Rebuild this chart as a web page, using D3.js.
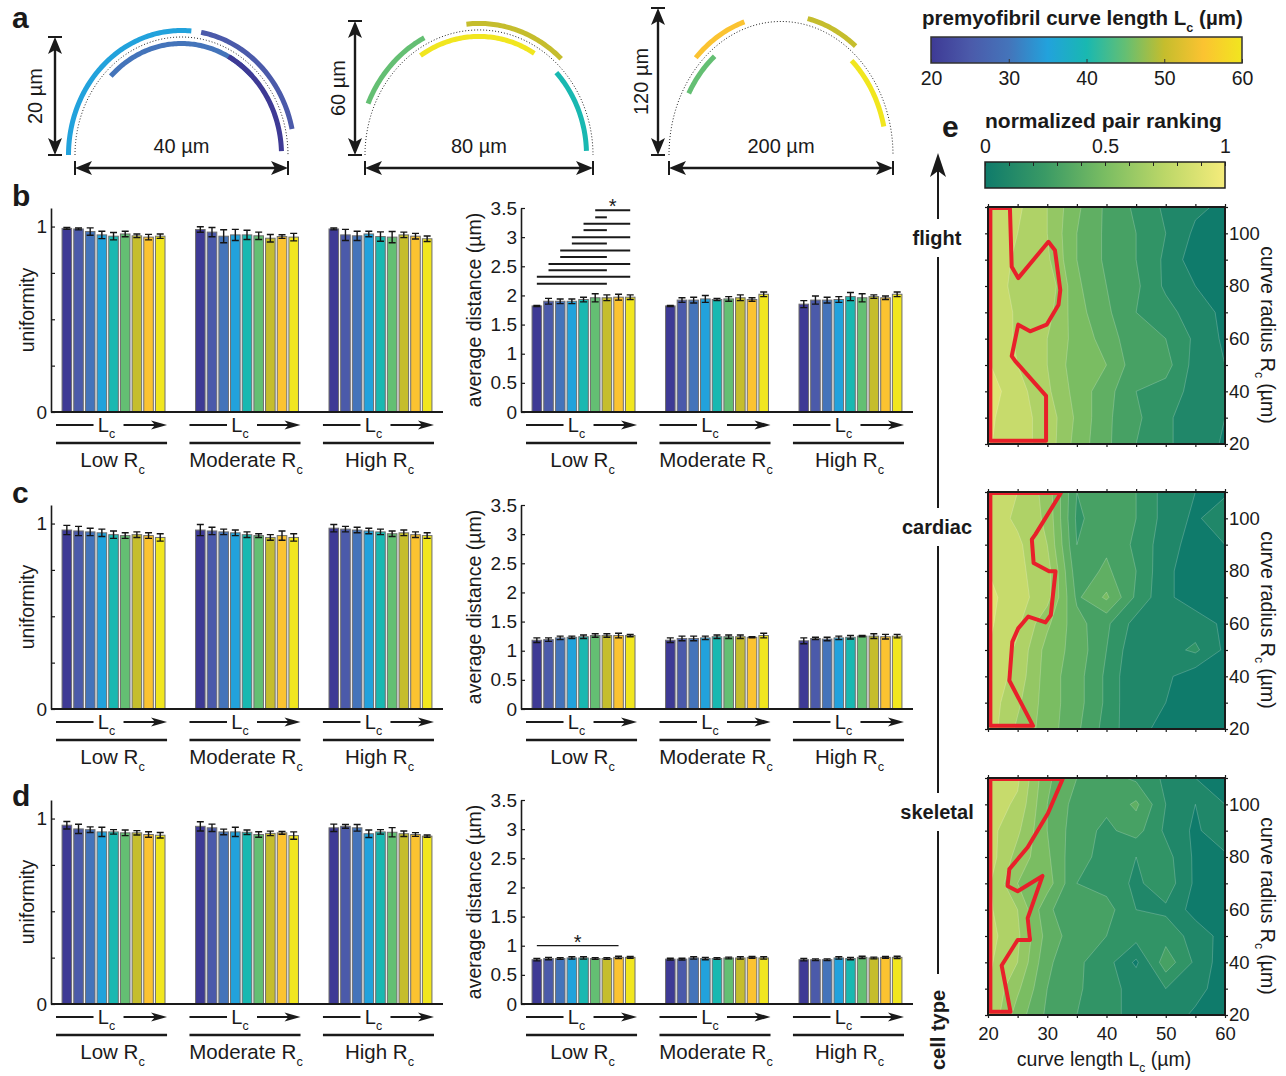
<!DOCTYPE html>
<html>
<head>
<meta charset="utf-8">
<script src="https://cdn.jsdelivr.net/npm/d3@7"></script>
<style>
  body { margin: 0; background: #fff; }
  svg { display: block; font-family: "Liberation Sans", Arial, Helvetica, sans-serif; }
  text { white-space: pre; fill: #1a1a1a; }
</style>
</head>
<body>
<div id="fig"></div>
<script>
// premyofibril curve length steps (one bar per step) and their colours
var lcSteps = [20, 25, 30, 35, 40, 45, 50, 55, 60]
var lcColors = ["#3e3a95", "#4b5aaa", "#4474ba", "#22a2dc", "#19b8b1", "#64bf73", "#c5bd2d", "#fbc331", "#f1e61f"]
var rcGroups = ["Low", "Moderate", "High"]

// panel a sketches (µm): chord, arrow height, apex of dotted guide
var arcWidths = [40, 80, 200]
var arcHeights = [20, 60, 120]
var arcCurveTops = [20, 56, 109]
// [Lc, start angle, end angle, side (+1 outside / -1 inside)]
var arcSegments = [
  [[35, 180, 85, 1], [25, 80, 12, 1], [30, 135, 45, -1], [20, 62, 2, -1]],
  [[45, 157, 117, 1], [60, 123, 59, -1], [50, 96, 47, 1], [40, 44, 2, -1]],
  [[55, 136, 108, 1], [45, 151, 129, -1], [50, 77, 51, 1], [60, 48, 13, -1]]
]

// panel b (flight)
var uniformB = [
  [0.990, 0.987, 0.973, 0.955, 0.948, 0.960, 0.950, 0.943, 0.948],
  [0.984, 0.970, 0.948, 0.955, 0.955, 0.950, 0.937, 0.946, 0.943],
  [0.987, 0.955, 0.950, 0.960, 0.946, 0.943, 0.955, 0.948, 0.934]
]
var uniformErrB = [
  [0.005, 0.005, 0.020, 0.020, 0.020, 0.015, 0.010, 0.015, 0.012],
  [0.015, 0.025, 0.035, 0.030, 0.025, 0.020, 0.020, 0.010, 0.020],
  [0.005, 0.030, 0.025, 0.015, 0.025, 0.030, 0.015, 0.015, 0.015]
]
var distanceB = [
  [1.82, 1.90, 1.90, 1.90, 1.93, 1.96, 1.96, 1.97, 1.97],
  [1.82, 1.92, 1.92, 1.94, 1.93, 1.94, 1.96, 1.93, 2.02],
  [1.85, 1.92, 1.92, 1.93, 1.98, 1.96, 1.98, 1.96, 2.02]
]
var distanceErrB = [
  [0.01, 0.05, 0.04, 0.04, 0.04, 0.07, 0.05, 0.05, 0.04],
  [0.01, 0.04, 0.05, 0.06, 0.02, 0.04, 0.05, 0.03, 0.04],
  [0.06, 0.07, 0.05, 0.05, 0.07, 0.07, 0.03, 0.03, 0.04]
]
// [bar a, bar b, height] significance lines within the Low Rc group
var sigB = [[0, 6, 2.20], [0, 8, 2.32], [1, 6, 2.43], [1, 8, 2.54], [2, 6, 2.66], [2, 8, 2.77],
  [3, 6, 2.89], [3, 8, 3.00], [4, 6, 3.12], [4, 8, 3.23], [5, 6, 3.34], [5, 8, 3.46]]

// panel c (cardiac)
var uniformC = [
  [0.965, 0.960, 0.955, 0.950, 0.940, 0.935, 0.940, 0.935, 0.925],
  [0.965, 0.960, 0.955, 0.950, 0.940, 0.935, 0.925, 0.935, 0.925],
  [0.975, 0.970, 0.965, 0.960, 0.955, 0.945, 0.950, 0.940, 0.935]
]
var uniformErrC = [
  [0.025, 0.025, 0.020, 0.020, 0.020, 0.015, 0.015, 0.015, 0.020],
  [0.030, 0.020, 0.015, 0.015, 0.015, 0.010, 0.015, 0.025, 0.020],
  [0.020, 0.015, 0.015, 0.015, 0.015, 0.015, 0.015, 0.015, 0.015]
]
var distanceC = [
  [1.18, 1.19, 1.22, 1.23, 1.24, 1.26, 1.26, 1.26, 1.26],
  [1.18, 1.21, 1.21, 1.22, 1.24, 1.24, 1.24, 1.23, 1.26],
  [1.17, 1.21, 1.20, 1.22, 1.23, 1.25, 1.25, 1.24, 1.25]
]
var distanceErrC = [
  [0.04, 0.03, 0.03, 0.02, 0.03, 0.03, 0.03, 0.04, 0.02],
  [0.04, 0.04, 0.04, 0.03, 0.03, 0.03, 0.03, 0.01, 0.04],
  [0.05, 0.02, 0.03, 0.03, 0.03, 0.01, 0.04, 0.04, 0.03]
]

// panel d (skeletal)
var uniformD = [
  [0.964, 0.944, 0.940, 0.928, 0.928, 0.923, 0.923, 0.914, 0.910],
  [0.958, 0.950, 0.928, 0.928, 0.926, 0.914, 0.920, 0.923, 0.908],
  [0.950, 0.958, 0.950, 0.918, 0.928, 0.926, 0.918, 0.914, 0.905]
]
var uniformErrD = [
  [0.020, 0.025, 0.015, 0.025, 0.012, 0.015, 0.012, 0.015, 0.015],
  [0.025, 0.020, 0.015, 0.025, 0.012, 0.015, 0.012, 0.008, 0.020],
  [0.020, 0.010, 0.018, 0.020, 0.012, 0.025, 0.015, 0.010, 0.006]
]
var distanceD = [
  [0.76, 0.78, 0.78, 0.79, 0.79, 0.78, 0.78, 0.80, 0.80],
  [0.77, 0.77, 0.79, 0.78, 0.78, 0.79, 0.79, 0.80, 0.79],
  [0.76, 0.76, 0.76, 0.79, 0.78, 0.80, 0.79, 0.80, 0.80]
]
var distanceErrD = [
  [0.02, 0.02, 0.015, 0.02, 0.02, 0.015, 0.015, 0.02, 0.015],
  [0.015, 0.015, 0.02, 0.02, 0.015, 0.015, 0.02, 0.015, 0.02],
  [0.02, 0.015, 0.015, 0.02, 0.02, 0.02, 0.015, 0.015, 0.02]
]
var sigD = [[0, 7, 1.0]]

// panel e: normalized pair ranking, rows Rc = 110 ... 20, columns Lc = 20 ... 60
var rcRows = [110, 100, 90, 80, 70, 60, 50, 40, 30, 20]
var lcCols = [20, 25, 30, 35, 40, 45, 50, 55, 60]
var rankLevels = [0, 0.1, 0.2, 0.3, 0.4, 0.5, 0.6, 0.7, 0.8, 0.9]
var flightRank = [
  [0.86, 0.82, 0.70, 0.52, 0.38, 0.28, 0.18, 0.12, 0.08],
  [0.86, 0.80, 0.70, 0.50, 0.38, 0.30, 0.20, 0.08, 0.05],
  [0.87, 0.78, 0.72, 0.50, 0.38, 0.30, 0.18, 0.04, 0.02],
  [0.88, 0.76, 0.78, 0.52, 0.40, 0.32, 0.18, 0.10, 0.06],
  [0.90, 0.78, 0.74, 0.54, 0.42, 0.30, 0.24, 0.14, 0.08],
  [0.91, 0.78, 0.70, 0.56, 0.46, 0.32, 0.30, 0.18, 0.08],
  [0.91, 0.80, 0.70, 0.54, 0.50, 0.34, 0.34, 0.16, 0.10],
  [0.95, 0.84, 0.72, 0.56, 0.44, 0.30, 0.26, 0.16, 0.10],
  [0.92, 0.84, 0.76, 0.58, 0.42, 0.32, 0.22, 0.14, 0.10],
  [0.91, 0.84, 0.76, 0.56, 0.42, 0.30, 0.22, 0.14, 0.09]
]
var cardiacRank = [
  [0.86, 0.80, 0.66, 0.30, 0.34, 0.30, 0.16, 0.10, 0.08],
  [0.86, 0.78, 0.68, 0.28, 0.36, 0.30, 0.16, 0.08, 0.18],
  [0.88, 0.82, 0.70, 0.30, 0.38, 0.28, 0.14, 0.06, 0.10],
  [0.90, 0.82, 0.75, 0.34, 0.42, 0.30, 0.12, 0.05, 0.05],
  [0.93, 0.84, 0.74, 0.38, 0.52, 0.28, 0.12, 0.05, 0.05],
  [0.92, 0.82, 0.62, 0.44, 0.32, 0.16, 0.10, 0.15, 0.08],
  [0.90, 0.78, 0.56, 0.46, 0.30, 0.12, 0.16, 0.22, 0.08],
  [0.88, 0.76, 0.55, 0.44, 0.28, 0.10, 0.12, 0.04, 0.08],
  [0.86, 0.72, 0.55, 0.44, 0.28, 0.10, 0.10, 0.08, 0.08],
  [0.86, 0.68, 0.55, 0.42, 0.26, 0.12, 0.08, 0.08, 0.06]
]
var skeletalRank = [
  [0.86, 0.82, 0.52, 0.40, 0.34, 0.28, 0.18, 0.10, 0.08],
  [0.86, 0.78, 0.50, 0.36, 0.32, 0.42, 0.20, 0.10, 0.10],
  [0.84, 0.72, 0.50, 0.34, 0.28, 0.34, 0.18, 0.08, 0.18],
  [0.86, 0.66, 0.52, 0.32, 0.28, 0.20, 0.24, 0.08, 0.08],
  [0.82, 0.60, 0.55, 0.30, 0.26, 0.18, 0.26, 0.08, 0.06],
  [0.82, 0.70, 0.42, 0.32, 0.34, 0.20, 0.18, 0.06, 0.06],
  [0.84, 0.72, 0.46, 0.34, 0.30, 0.24, 0.26, 0.16, 0.06],
  [0.82, 0.70, 0.42, 0.32, 0.24, 0.08, 0.36, 0.18, 0.04],
  [0.80, 0.62, 0.40, 0.32, 0.22, 0.18, 0.20, 0.14, 0.04],
  [0.80, 0.55, 0.38, 0.30, 0.22, 0.18, 0.16, 0.08, 0.04]
]
// red outline of the best-ranked region, [Lc, Rc]
var flightBest = [[20.4, 109.6], [23.7, 109.6], [24, 87.3], [25.1, 83], [30.2, 96.8], [31.3, 93.6], [32.2, 78.5],
  [31.9, 72.9], [29.9, 65.3], [27.1, 62.8], [25.1, 65.3], [24, 53.4], [24.6, 51.5], [29.8, 38.3], [29.8, 21.2], [20.4, 21.2]]
var cardiacBest = [[20.4, 109.6], [32.3, 109.6], [28, 93.9], [27.4, 92], [27.7, 83], [30.3, 79.9], [31.4, 79.9],
  [30.6, 63.3], [29.7, 60.5], [26.8, 62.7], [25.1, 58.2], [24.1, 53.1], [23.6, 38.4], [27.6, 21.2], [20.4, 21.2]]
var skeletalBest = [[20.4, 109.6], [32.6, 109.6], [30.1, 96.5], [26.7, 83.7], [23.6, 75.4], [23.3, 69], [25, 67],
  [29.2, 72.8], [26.7, 56.8], [27.1, 48.5], [25, 48.5], [22.3, 38.8], [23.8, 21.2], [20.4, 21.2]]

var lcColor = d3.scaleLinear().domain(lcSteps).range(lcColors)
var rankColor = d3.scaleLinear().domain([0, 0.25, 0.5, 0.75, 1])
  .range(["#0f7b6b", "#3a9a65", "#7abd62", "#bcd768", "#f5ec7b"])

var svg = d3.select("#fig").append("svg")
  .attr("width", 1286)
  .attr("height", 1076)
var defs = svg.append("defs")

// text with subscripts: parts are strings or [subscript]
function richText(g, x, y, parts, size, weight) {
  var t = g.append("text")
    .attr("x", x).attr("y", y)
    .attr("font-size", size)
    .attr("font-weight", weight || "normal")
  var shift = 0
  parts.forEach(function(p) {
    var sub = typeof p !== "string"
    var target = sub ? size * 0.32 : 0
    var s = t.append("tspan").text(sub ? p[0] : p).attr("dy", target - shift)
    if (sub) s.attr("font-size", size * 0.62)
    shift = target
  })
  return t
}

function arrowHead(g, x, y, angle, len, half, notch) {
  g.append("path")
    .attr("d", "M0,0L" + (-len) + "," + (-half) + "L" + (-len + notch) + ",0L" + (-len) + "," + half + "Z")
    .attr("transform", "translate(" + x + "," + y + ") rotate(" + angle + ")")
    .attr("fill", "#1a1a1a")
}

function seg(g, x1, y1, x2, y2, w) {
  g.append("line")
    .attr("x1", x1).attr("y1", y1).attr("x2", x2).attr("y2", y2)
    .attr("stroke", "#1a1a1a").attr("stroke-width", w)
}

// ---------- a: sketches ----------
var sketchBoxes = [{ x0: 75, x1: 288, top: 37, vx: 55, lx: 42 },
  { x0: 365, x1: 593, top: 21, vx: 355, lx: 345 },
  { x0: 669, x1: 893, top: 8, vx: 658, lx: 648 }]

function drawSketches() {
  var g = svg.append("g")
  arcWidths.forEach(function(w, k) {
    var box = sketchBoxes[k]
    var xs = d3.scaleLinear().domain([-w / 2, w / 2]).range([box.x0, box.x1])
    var ys = d3.scaleLinear().domain([0, arcHeights[k]]).range([155, box.top])
    var guide = function(t, off) {
      var r = t * Math.PI / 180
      return [xs(w / 2 * Math.cos(r)) + off * Math.cos(r), ys(arcCurveTops[k] * Math.sin(r)) - off * Math.sin(r)]
    }
    var line = d3.line()
    g.append("path")
      .attr("d", line(d3.range(180, -0.5, -1.5).map(function(t) { return guide(t, 0) })))
      .attr("fill", "none").attr("stroke", "#222").attr("stroke-width", 1)
      .attr("stroke-dasharray", "1 2")
    arcSegments[k].forEach(function(s) {
      var angles = d3.range(s[1], s[2], -1).concat([s[2]])
      g.append("path")
        .attr("d", line(angles.map(function(t) { return guide(t, s[3] * 6.5) })))
        .attr("fill", "none").attr("stroke", lcColor(s[0])).attr("stroke-width", 5)
    })

    // vertical double arrow (height)
    var top = ys(arcHeights[k]), base = ys(0)
    seg(g, box.vx, top + 10, box.vx, base - 10, 2.4)
    arrowHead(g, box.vx, top, -90, 17, 7, 4)
    arrowHead(g, box.vx, base, 90, 17, 7, 4)
    seg(g, box.vx - 7, top, box.vx + 7, top, 2)
    seg(g, box.vx - 7, base, box.vx + 7, base, 2)
    // horizontal double arrow (width)
    var hy = 168
    seg(g, box.x0 + 10, hy, box.x1 - 10, hy, 2.4)
    arrowHead(g, box.x0, hy, 180, 17, 7, 4)
    arrowHead(g, box.x1, hy, 0, 17, 7, 4)
    seg(g, box.x0, hy - 7, box.x0, hy + 7, 2)
    seg(g, box.x1, hy - 7, box.x1, hy + 7, 2)

    g.append("text").attr("x", (box.x0 + box.x1) / 2).attr("y", 153)
      .attr("text-anchor", "middle").attr("font-size", 20).text(w + " µm")
    g.append("text").attr("transform", "translate(" + box.lx + "," + ((top + base) / 2) + ") rotate(-90)")
      .attr("text-anchor", "middle").attr("font-size", 20).text(arcHeights[k] + " µm")
  })
}

// ---------- b, c, d: bar charts ----------
function drawBarChart(base, left, yMax, tickVals, labelVals, means, errs, yTitle, titleX, sig, sigWidth) {
  var g = svg.append("g")
  var y = d3.scaleLinear().domain([0, yMax]).range([base, base - 204])
  var xg = d3.scaleBand().domain(rcGroups).range([left, left + 392]).paddingInner(0.213).paddingOuter(0.075)
  var xb = d3.scaleBand().domain(d3.range(9)).range([0, xg.bandwidth()]).paddingInner(0.18).paddingOuter(0.09)
  var bw = xb.bandwidth()

  rcGroups.forEach(function(grp, gi) {
    var gg = g.append("g").attr("transform", "translate(" + xg(grp) + ",0)")
    gg.selectAll("rect").data(means[gi]).enter().append("rect")
      .attr("x", function(d, i) { return xb(i) })
      .attr("y", function(d) { return y(d) })
      .attr("width", bw)
      .attr("height", function(d) { return base - y(d) })
      .attr("fill", function(d, i) { return lcColors[i] })
      .attr("stroke", "#6e6e6e").attr("stroke-width", 1)
    gg.selectAll("path.err").data(means[gi]).enter().append("path")
      .attr("class", "err")
      .attr("d", function(d, i) {
        var cx = xb(i) + bw / 2, hi = y(d + errs[gi][i]), lo = y(d - errs[gi][i])
        return "M" + (cx - 3.5) + "," + hi + "H" + (cx + 3.5) + "M" + cx + "," + hi + "V" + lo +
          "M" + (cx - 3.5) + "," + lo + "H" + (cx + 3.5)
      })
      .attr("fill", "none").attr("stroke", "#151515").attr("stroke-width", 1.4)

    // Lc arrow and group line below the axis
    var x0 = xg(grp) - 5, x1 = xg(grp) + xg.bandwidth() + 1
    var mid = xg(grp) + xg.bandwidth() / 2
    seg(g, x0, base + 13, mid - 20, base + 13, 2)
    seg(g, mid + 10, base + 13, x1 - 10, base + 13, 2)
    arrowHead(g, x1, base + 13, 0, 16, 4.5, 4)
    richText(g, mid - 7, base + 20, ["L", ["c"]], 20).attr("text-anchor", "middle")
    seg(g, x0, base + 31, x1, base + 31, 2.5)
    richText(g, mid - 1, base + 55, [grp + " R", ["c"]], 20.5).attr("text-anchor", "middle")
  })

  // significance lines (Low Rc group)
  sig.forEach(function(s, i) {
    var xa = xg(rcGroups[0]) + xb(s[0]) + bw / 2, xz = xg(rcGroups[0]) + xb(s[1]) + bw / 2
    seg(g, xa, y(s[2]), xz, y(s[2]), sigWidth)
    if (i === sig.length - 1) {
      g.append("text").attr("x", (xa + xz) / 2).attr("y", y(s[2]) + 3)
        .attr("text-anchor", "middle").attr("font-size", 20).text("*")
    }
  })

  var axis = g.append("g")
    .attr("transform", "translate(" + left + ",0)")
    .call(d3.axisLeft(y).tickValues(tickVals).tickSize(-4).tickSizeOuter(0).tickPadding(4)
      .tickFormat(function(d) { return labelVals.indexOf(d) >= 0 ? d3.format("~g")(d) : "" }))
  axis.attr("font-family", null).attr("font-size", 19)
  axis.select(".domain").attr("stroke", "#1a1a1a").attr("stroke-width", 1.6)
  axis.selectAll(".tick line").attr("stroke", "#1a1a1a").attr("stroke-width", 1.2)
  axis.selectAll(".tick text").attr("fill", "#1a1a1a")
  seg(g, left, base, left + 392, base, 2)

  g.append("text")
    .attr("transform", "translate(" + titleX + "," + (base - 102) + ") rotate(-90)")
    .attr("text-anchor", "middle").attr("font-size", 19.5).text(yTitle)
}

var barRows = [
  { tag: "b", base: 412, tagY: 206, uni: uniformB, uniErr: uniformErrB, dist: distanceB, distErr: distanceErrB, sig: sigB, sigW: 2 },
  { tag: "c", base: 709, tagY: 503, uni: uniformC, uniErr: uniformErrC, dist: distanceC, distErr: distanceErrC, sig: [], sigW: 2 },
  { tag: "d", base: 1004, tagY: 806, uni: uniformD, uniErr: uniformErrD, dist: distanceD, distErr: distanceErrD, sig: sigD, sigW: 1.2 }
]

// ---------- e: contour maps ----------
function drawRankPanel(id, grid, best, top, showX) {
  var g = svg.append("g")
  var xE = d3.scaleLinear().domain([20, 60]).range([988, 1225])
  var yE = d3.scaleLinear().domain([20, 110]).range([top + 237, top])

  defs.append("clipPath").attr("id", "clip-" + id)
    .append("rect").attr("x", 988).attr("y", top).attr("width", 237).attr("height", 237)

  // grid rows bottom-up for d3.contours (grid cell i sits at i + 0.5)
  var values = []
  grid.slice().reverse().forEach(function(row) { values = values.concat(row) })
  var contours = d3.contours().size([lcCols.length, rcRows.length]).thresholds(rankLevels)(values)
  var proj = d3.geoTransform({
    point: function(cx, cy) {
      this.stream.point(xE(lcCols[0] + (cx - 0.5) * 5), yE(rcRows[rcRows.length - 1] + (cy - 0.5) * 10))
    }
  })
  var path = d3.geoPath(proj)
  var cg = g.append("g").attr("clip-path", "url(#clip-" + id + ")")
  cg.selectAll("path.band").data(contours).enter().append("path")
    .attr("class", "band")
    .attr("d", path)
    .attr("fill", function(d) { return rankColor(d.value) })
    .attr("stroke", "#ffffff").attr("stroke-opacity", 0.35).attr("stroke-width", 0.6)

  g.append("path")
    .attr("d", d3.line().x(function(d) { return xE(d[0]) }).y(function(d) { return yE(d[1]) }).curve(d3.curveLinearClosed)(best))
    .attr("fill", "none").attr("stroke", "#e8202a").attr("stroke-width", 4).attr("stroke-linejoin", "round")

  var tickStyle = function(a) {
    a.attr("font-family", null).attr("font-size", 18.5)
    a.select(".domain").remove()
    a.selectAll(".tick line").attr("stroke", "#1a1a1a").attr("stroke-width", 1.2)
    a.selectAll(".tick text").attr("fill", "#1a1a1a")
  }
  var rcTicks = d3.range(20, 111, 10), lcTicks = d3.range(20, 61, 5)
  g.append("g").attr("transform", "translate(988,0)")
    .call(d3.axisLeft(yE).tickValues(rcTicks).tickSize(3).tickFormat("")).call(tickStyle)
  g.append("g").attr("transform", "translate(1225,0)")
    .call(d3.axisRight(yE).tickValues(rcTicks).tickSize(3).tickPadding(1)
      .tickFormat(function(d) { return d % 20 === 0 && d <= 100 ? d : "" })).call(tickStyle)
  g.append("g").attr("transform", "translate(0," + top + ")")
    .call(d3.axisTop(xE).tickValues(lcTicks).tickSize(3).tickFormat("")).call(tickStyle)
  g.append("g").attr("transform", "translate(0," + (top + 237) + ")")
    .call(d3.axisBottom(xE).tickValues(lcTicks).tickSize(3).tickPadding(9)
      .tickFormat(function(d) { return showX && d % 10 === 0 ? d : "" })).call(tickStyle)

  g.append("rect").attr("x", 988).attr("y", top).attr("width", 237).attr("height", 237)
    .attr("fill", "none").attr("stroke", "#1a1a1a").attr("stroke-width", 2)

  richText(g, 0, 0, ["curve radius R", ["c"], " (µm)"], 19.5)
    .attr("transform", "translate(1261," + (top + 128) + ") rotate(90)")
    .attr("text-anchor", "middle")
  if (showX) {
    richText(g, 1104, 1066, ["curve length L", ["c"], " (µm)"], 19.5).attr("text-anchor", "middle")
  }
}

function drawColorbars() {
  var g = svg.append("g")
  var gradA = defs.append("linearGradient").attr("id", "lc-grad")
  lcSteps.forEach(function(v, i) {
    gradA.append("stop").attr("offset", (v - 20) / 40).attr("stop-color", lcColors[i])
  })
  var xA = d3.scaleLinear().domain([20, 60]).range([931, 1242])
  richText(g, 922, 25, ["premyofibril curve length L", ["c"], " (µm)"], 20.5, "bold")
  g.append("rect").attr("x", 931).attr("y", 37).attr("width", 311).attr("height", 26)
    .attr("fill", "url(#lc-grad)").attr("stroke", "#333").attr("stroke-width", 1.5)
  var axA = g.append("g").attr("transform", "translate(0,63)")
    .call(d3.axisBottom(xA).tickValues([20, 30, 40, 50, 60]).tickSize(-4).tickSizeOuter(0).tickPadding(8))
  axA.attr("font-family", null).attr("font-size", 19.5)
  axA.select(".domain").remove()
  axA.selectAll(".tick line").attr("stroke", "#333")
  axA.selectAll(".tick text").attr("fill", "#1a1a1a")

  var gradB = defs.append("linearGradient").attr("id", "rank-grad")
  rankColor.domain().forEach(function(v) {
    gradB.append("stop").attr("offset", v).attr("stop-color", rankColor(v))
  })
  var xB = d3.scaleLinear().domain([0, 1]).range([985, 1225])
  g.append("text").attr("x", 985).attr("y", 128).attr("font-size", 21).attr("font-weight", "bold")
    .text("normalized pair ranking")
  g.append("rect").attr("x", 985).attr("y", 162).attr("width", 240).attr("height", 26)
    .attr("fill", "url(#rank-grad)").attr("stroke", "#222").attr("stroke-width", 1.5)
  var axB = g.append("g").attr("transform", "translate(0,162)")
    .call(d3.axisTop(xB).tickValues(d3.range(0, 1.01, 0.1)).tickSize(-4).tickSizeOuter(0).tickPadding(9)
      .tickFormat(function(d) { return [0, 0.5, 1].some(function(v) { return Math.abs(v - d) < 1e-6 }) ? d3.format("~g")(d) : "" }))
  axB.attr("font-family", null).attr("font-size", 19.5)
  axB.select(".domain").remove()
  axB.selectAll(".tick line").attr("stroke", "#222")
  axB.selectAll(".tick text").attr("fill", "#1a1a1a")
}

function drawCellTypeAxis() {
  var g = svg.append("g")
  var cellTypes = [["flight", 245], ["cardiac", 534], ["skeletal", 819]]
  var cuts = [[160, 219], [257, 508], [546, 793], [831, 974]]
  cuts.forEach(function(c) { seg(g, 938, c[0], 938, c[1], 2) })
  arrowHead(g, 938, 153, -90, 24, 8, 6)
  cellTypes.forEach(function(c) {
    g.append("text").attr("x", 937).attr("y", c[1]).attr("text-anchor", "middle")
      .attr("font-size", 20).attr("font-weight", "bold").text(c[0])
  })
  g.append("text").attr("transform", "translate(945,1030) rotate(-90)")
    .attr("text-anchor", "middle").attr("font-size", 20).attr("font-weight", "bold").text("cell type")
}

function drawTags() {
  var tags = [["a", 12, 28], ["e", 942, 137]]
  barRows.forEach(function(r) { tags.push([r.tag, 12, r.tagY]) })
  svg.selectAll("text.tag").data(tags).enter().append("text")
    .attr("class", "tag")
    .attr("x", function(d) { return d[1] }).attr("y", function(d) { return d[2] })
    .attr("font-size", 30).attr("font-weight", "bold")
    .text(function(d) { return d[0] })
}

drawSketches()
barRows.forEach(function(r) {
  drawBarChart(r.base, 51, 1.1, d3.range(0, 1.01, 0.25), [0, 1], r.uni, r.uniErr, "uniformity", 34, [], 0)
  drawBarChart(r.base, 521, 3.5, d3.range(0, 3.51, 0.5), d3.range(0, 3.51, 0.5), r.dist, r.distErr,
    "average distance (µm)", 481, r.sig, r.sigW)
})
drawColorbars()
drawCellTypeAxis()
drawRankPanel("flight", flightRank, flightBest, 207, false)
drawRankPanel("cardiac", cardiacRank, cardiacBest, 492, false)
drawRankPanel("skeletal", skeletalRank, skeletalBest, 778, true)
drawTags()
</script>
</body>
</html>
